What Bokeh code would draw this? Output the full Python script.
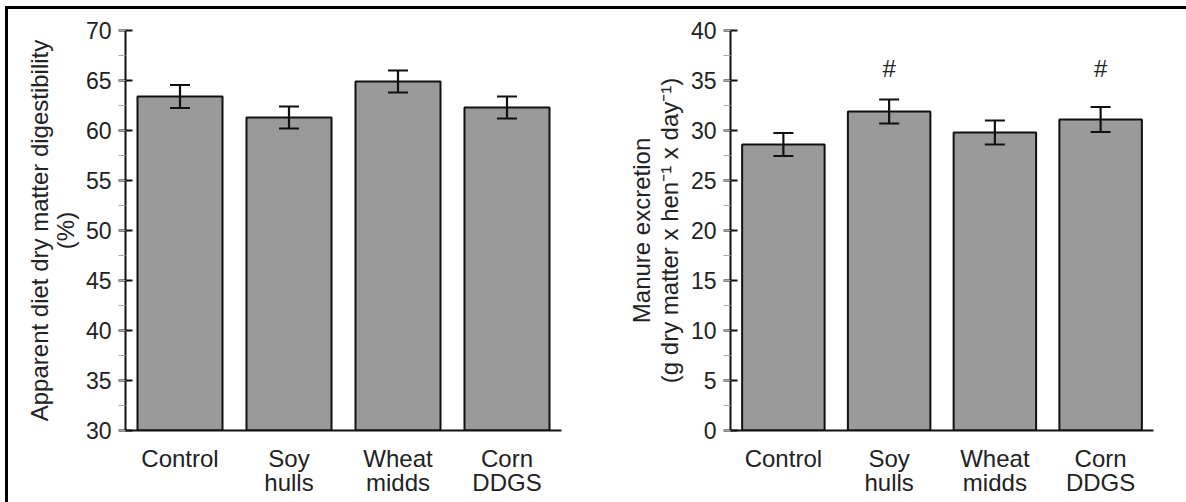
from bokeh.plotting import figure
from bokeh.models import (Range1d, SingleIntervalTicker, FixedTicker, Whisker,
                          TeeHead, ColumnDataSource, LinearAxis)
from bokeh.layouts import row
from bokeh.embed import file_html
from bokeh.resources import INLINE
from bokeh.core.properties import value

# ---- data ----
categories = ["Control", "Soy hulls", "Wheat midds", "Corn DDGS"]
label_line1 = ["Control", "Soy", "Wheat", "Corn"]
label_line2 = ["", "hulls", "midds", "DDGS"]
digest_mean = [63.4, 61.3, 64.9, 62.3]
digest_err = [1.15, 1.1, 1.1, 1.1]
manure_mean = [28.6, 31.9, 29.8, 31.1]
manure_err = [1.15, 1.2, 1.2, 1.25]
manure_sig = ["", "#", "", "#"]

FONT = "Liberation Sans"
BAR_FILL = "#9a9a9a"
INK = "#111111"
TXT = "#222222"

# category slots on a numeric axis: one unit per category, centred at i + 0.5
xpos = [i + 0.5 for i in range(len(categories))]


def style_x_axis(ax, labels, standoff, line=True):
    ax.ticker = FixedTicker(ticks=xpos)
    ax.axis_line_width = 2
    ax.axis_line_color = INK if line else None
    ax.major_tick_line_color = None
    ax.minor_tick_line_color = None
    ax.major_tick_in = 0
    ax.major_tick_out = 0
    ax.major_label_overrides = {x: lab for x, lab in zip(xpos, labels)}
    ax.major_label_text_font = FONT
    ax.major_label_text_font_size = "24px"
    ax.major_label_text_color = TXT
    ax.major_label_standoff = standoff
    ax.major_label_orientation = "horizontal"


def make_panel(means, errs, y0, y1, ylabel, width, border_left, border_right,
               label_standoff, label_line_height):
    lower = [m - e for m, e in zip(means, errs)]
    upper = [m + e for m, e in zip(means, errs)]
    src = ColumnDataSource(dict(x=xpos, cat=categories, top=means, lower=lower, upper=upper))
    p = figure(x_range=Range1d(0, len(categories)), y_range=Range1d(y0, y1),
               width=width, height=493, output_backend="svg", toolbar_location=None,
               min_border_left=border_left, min_border_right=border_right,
               min_border_top=21, min_border_bottom=72)
    p.background_fill_color = "white"
    p.border_fill_color = "white"
    p.outline_line_color = None
    p.grid.visible = False

    p.vbar(x="x", top="top", bottom=y0, width=0.78, source=src,
           fill_color=BAR_FILL, line_color=INK, line_width=2)
    w = Whisker(source=src, base="x", upper="upper", lower="lower",
                line_color=INK, line_width=2.2, level="overlay",
                upper_head=TeeHead(size=20, line_width=2.2, line_color=INK),
                lower_head=TeeHead(size=20, line_width=2.2, line_color=INK))
    p.add_layout(w)

    # y axis
    ya = p.yaxis[0]
    ya.ticker = SingleIntervalTicker(interval=5, num_minor_ticks=2)
    ya.axis_line_width = 2
    ya.axis_line_color = INK
    ya.major_tick_line_width = 2
    ya.major_tick_line_color = INK
    ya.major_tick_in = 7
    ya.major_tick_out = 7
    ya.minor_tick_in = 0
    ya.minor_tick_out = 7
    ya.minor_tick_line_color = "#aaaaaa"
    ya.minor_tick_line_width = 1
    ya.major_label_text_font = FONT
    ya.major_label_text_font_size = "23px"
    ya.major_label_text_color = TXT
    ya.major_label_standoff = 7
    ya.axis_label = ylabel
    ya.axis_label_text_font = FONT
    ya.axis_label_text_font_size = "24px"
    ya.axis_label_text_font_style = "normal"
    ya.axis_label_text_color = TXT
    ya.axis_label_text_line_height = label_line_height
    ya.axis_label_standoff = label_standoff

    # x axis: two stacked category-label lines
    style_x_axis(p.xaxis[0], label_line1, 14)
    ax2 = LinearAxis()
    style_x_axis(ax2, label_line2, -6, line=False)
    p.add_layout(ax2, "below")
    return p


left = make_panel(digest_mean, digest_err, 30, 70,
                  "Apparent diet dry matter digestibility\n(%)",
                  width=582, border_left=117, border_right=29,
                  label_standoff=4, label_line_height=0.95)

right = make_panel(manure_mean, manure_err, 0, 40,
                   "Manure excretion\n(g dry matter x hen\u207b\u00b9 x day\u207b\u00b9)",
                   width=596, border_left=140, border_right=33,
                   label_standoff=5, label_line_height=1.05)

sig_y = max(m + e for m, e in zip(manure_mean, manure_err)) + 3.1
sig_src = ColumnDataSource(dict(x=xpos, txt=manure_sig,
                                y=[sig_y] * len(categories)))
right.text(x="x", y="y", text="txt", source=sig_src,
           text_font=value(FONT), text_font_size="24px", text_color=TXT,
           text_align="center", text_baseline="middle")

layout = row(left, right, spacing=0,
             styles={"margin-left": "5px", "margin-top": "6px",
                     "border-left": "3px solid #000", "border-top": "3px solid #000"})

open("out.html", "w").write(file_html(layout, INLINE))
